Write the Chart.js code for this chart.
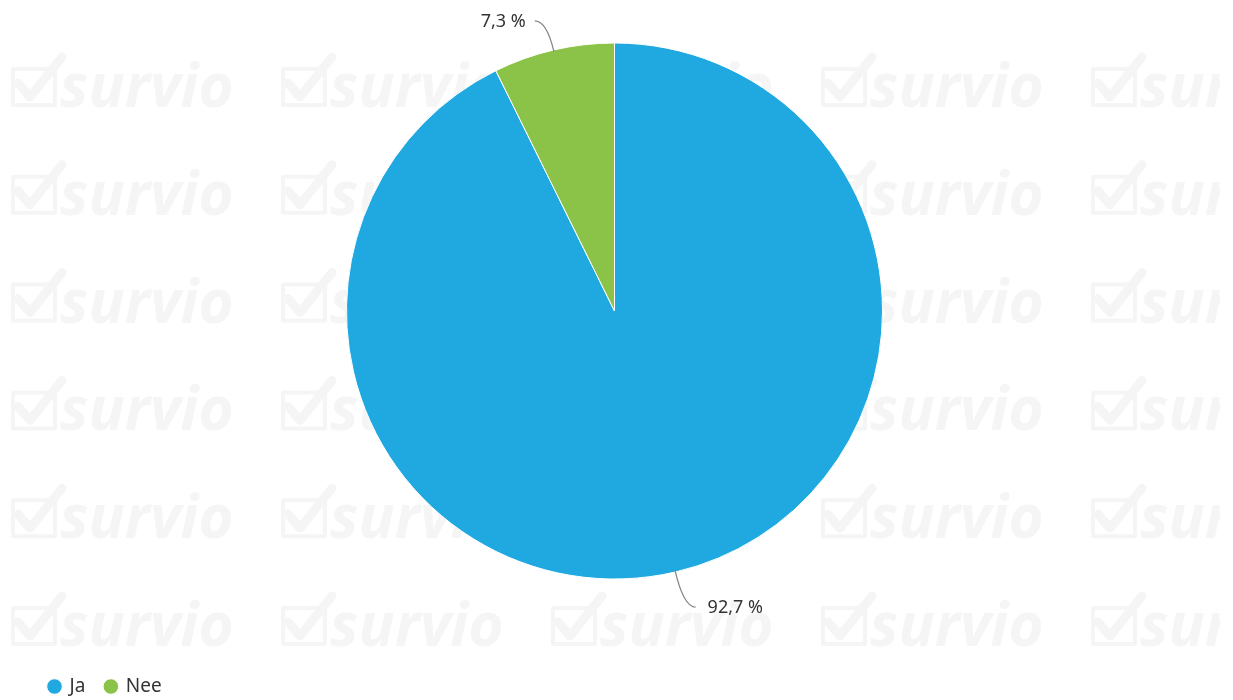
<!DOCTYPE html>
<html>
<head>
<meta charset="utf-8">
<script src="https://cdn.jsdelivr.net/npm/chart.js@4"></script>
<style>
  html, body { margin: 0; padding: 0; background: #fff; }
  #wrap { width: 1233px; height: 700px; }
</style>
</head>
<body>
<div id="wrap"><canvas id="chart" width="1233" height="700"></canvas></div>
<script>
// chart data
const labels = ['Ja', 'Nee'];
const values = [92.7, 7.3];
const valueLabels = ['92,7 %', '7,3 %'];
const colors = ['#20a9e1', '#8bc348'];

// faint "survio" watermark tiles behind the chart
const watermark = {
  id: 'watermark',
  beforeDraw(chart) {
    const ctx = chart.ctx;
    ctx.save();
    ctx.beginPath();
    ctx.rect(0, 0, 1220, chart.height);
    ctx.clip();
    ctx.fillStyle = '#f5f5f5';
    ctx.strokeStyle = '#f5f5f5';
    ctx.font = 'italic bold 60px "Open Sans"';
    ctx.textBaseline = 'alphabetic';
    for (let row = -1; row < 6; row++) {
      const y = 107 + row * 107.8;
      for (let col = 0; col < 5; col++) {
        const x = 10 + col * 270;
        // box
        ctx.lineWidth = 4;
        ctx.strokeRect(x + 3, y - 38, 42, 36);
        // check mark
        ctx.lineWidth = 9;
        ctx.lineCap = 'round';
        ctx.lineJoin = 'round';
        ctx.beginPath();
        ctx.moveTo(x + 8, y - 24);
        ctx.lineTo(x + 20, y - 10);
        ctx.lineTo(x + 52, y - 50);
        ctx.stroke();
        ctx.fillText('survio', x + 50, y);
      }
    }
    ctx.restore();
  }
};

// place the pie centre where the original has it
const pieArea = {
  id: 'pieArea',
  afterLayout(chart) {
    chart.chartArea.top = 0;
    chart.chartArea.bottom = 622;
    chart.chartArea.height = 622;
  }
};

// outside labels with bent connector lines
const outLabels = {
  id: 'outLabels',
  afterDatasetsDraw(chart) {
    const ctx = chart.ctx;
    const meta = chart.getDatasetMeta(0);
    ctx.save();
    ctx.font = '18px "Noto Sans"';
    ctx.fillStyle = '#333';
    ctx.strokeStyle = '#888';
    ctx.lineWidth = 1.3;
    ctx.textBaseline = 'middle';
    meta.data.forEach((arc, i) => {
      const mid = (arc.startAngle + arc.endAngle) / 2;
      const r = arc.outerRadius;
      const cx = arc.x, cy = arc.y;
      const down = Math.sin(mid) > 0;
      const x0 = cx + Math.cos(mid) * (r - 2);
      const y0 = cy + Math.sin(mid) * (r - 2);
      const ext = down ? 36 : 30;
      const x1 = cx + Math.cos(mid) * (r + ext);
      const y1 = cy + Math.sin(mid) * (r + ext);
      const right = Math.cos(mid) >= 0;
      const x2 = x1 + (right ? 12 : -12);
      ctx.beginPath();
      ctx.moveTo(x0, y0);
      ctx.quadraticCurveTo(x1, y1, x2, y1);
      ctx.stroke();
      ctx.textAlign = right ? 'left' : 'right';
      ctx.fillText(valueLabels[i], x2 + (right ? 12 : -9), y1 + 1);
    });
    ctx.restore();
  }
};

const ctx = document.getElementById('chart').getContext('2d');
new Chart(ctx, {
  type: 'pie',
  data: {
    labels: labels,
    datasets: [{
      data: values,
      backgroundColor: colors,
      borderColor: '#ffffff',
      borderWidth: 1,
      radius: 268
    }]
  },
  options: {
    responsive: false,
    animation: false,
    layout: { padding: { left: 29, right: 33, top: 0, bottom: -6 } },
    plugins: {
      tooltip: { enabled: false },
      legend: {
        position: 'bottom',
        align: 'start',
        labels: {
          usePointStyle: true,
          pointStyle: 'circle',
          boxWidth: 11,
          boxHeight: 11,
          padding: 20,
          color: '#333',
          font: { family: 'Noto Sans', size: 19 }
        }
      }
    }
  },
  plugins: [watermark, pieArea, outLabels]
});
</script>
</body>
</html>
